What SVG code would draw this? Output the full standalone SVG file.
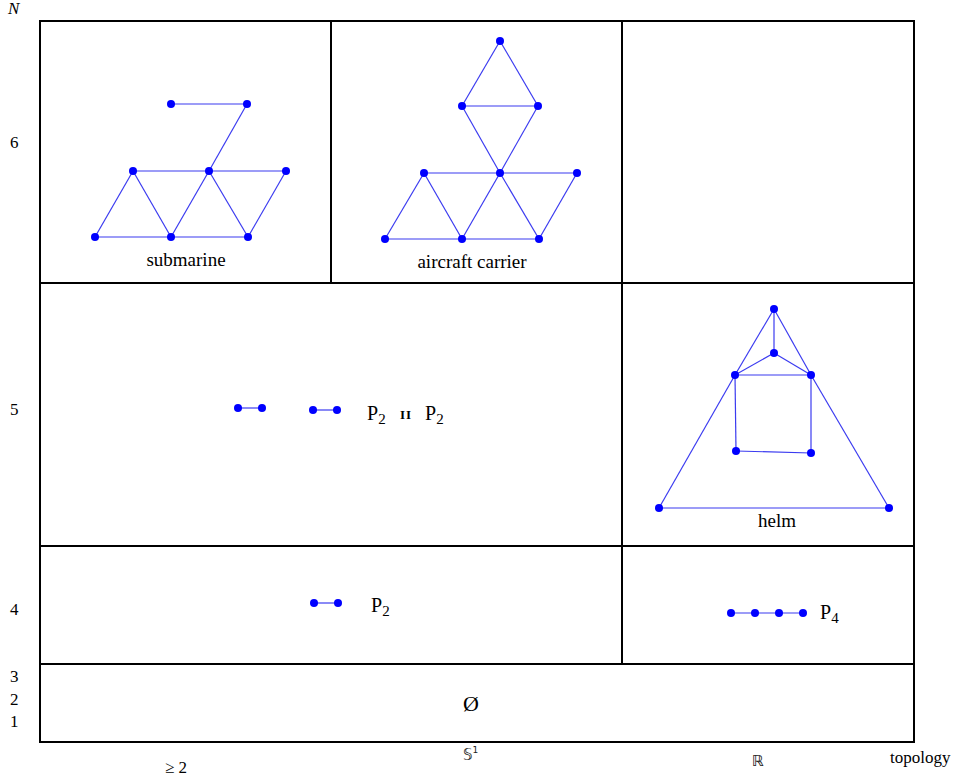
<svg xmlns="http://www.w3.org/2000/svg" width="956" height="783" viewBox="0 0 956 783" font-family="'Liberation Serif', 'Times New Roman', serif">
<style>
.grid{fill:none;stroke:#000;stroke-width:2}
.e{stroke:#3b3bf0;stroke-width:1.2;fill:none}
.n{fill:#0000ff}
.t{font-family:'Liberation Serif','Times New Roman',serif;fill:#000}
.ax{font-size:17px}
.lab{font-size:19px;text-anchor:middle}
.p{font-size:20px}
.sub{font-size:15px}
.ds{font-family:'DejaVu Sans',sans-serif;font-size:15px;fill:#222}
</style>
<rect width="956" height="783" fill="#fff"/>
<g id="grid">
<rect class="grid" x="40" y="21" width="874" height="721"/>
<line class="grid" x1="40" y1="283" x2="914" y2="283"/>
<line class="grid" x1="40" y1="546" x2="914" y2="546"/>
<line class="grid" x1="40" y1="664" x2="914" y2="664"/>
<line class="grid" x1="331" y1="21" x2="331" y2="283"/>
<line class="grid" x1="622" y1="21" x2="622" y2="664"/>
</g>
<g id="axes">
<text class="t ax" x="8" y="14" font-style="italic">N</text>
<text class="t ax" x="10" y="148">6</text>
<text class="t ax" x="10" y="415">5</text>
<text class="t ax" x="10" y="615">4</text>
<text class="t ax" x="10" y="682">3</text>
<text class="t ax" x="10" y="705">2</text>
<text class="t ax" x="10" y="727">1</text>
<text class="t ax" x="165" y="773">≥ 2</text>
<text class="ds" x="463" y="760">𝕊<tspan font-size="9" dy="-7">1</tspan></text>
<text class="ds" x="752" y="766">ℝ</text>
<text class="t ax" x="890" y="763">topology</text>
</g>
<g id="submarine">
<g class="e">
<line x1="171" y1="104" x2="247" y2="104"/>
<line x1="247" y1="104" x2="209" y2="171"/>
<line x1="133" y1="171" x2="286" y2="171"/>
<line x1="95" y1="237" x2="248" y2="237"/>
<line x1="133" y1="171" x2="95" y2="237"/>
<line x1="133" y1="171" x2="171" y2="237"/>
<line x1="209" y1="171" x2="171" y2="237"/>
<line x1="209" y1="171" x2="248" y2="237"/>
<line x1="286" y1="171" x2="248" y2="237"/>
</g>
<g class="n">
<circle cx="171" cy="104" r="4"/><circle cx="247" cy="104" r="4"/>
<circle cx="133" cy="171" r="4"/><circle cx="209" cy="171" r="4"/><circle cx="286" cy="171" r="4"/>
<circle cx="95" cy="237" r="4"/><circle cx="171" cy="237" r="4"/><circle cx="248" cy="237" r="4"/>
</g>
<text class="t lab" x="186" y="266">submarine</text>
</g>
<g id="aircraft-carrier">
<g class="e">
<line x1="500" y1="41" x2="462" y2="106"/>
<line x1="500" y1="41" x2="538" y2="106"/>
<line x1="462" y1="106" x2="538" y2="106"/>
<line x1="462" y1="106" x2="500" y2="173"/>
<line x1="538" y1="106" x2="500" y2="173"/>
<line x1="424" y1="173" x2="577" y2="173"/>
<line x1="385" y1="239" x2="539" y2="239"/>
<line x1="424" y1="173" x2="385" y2="239"/>
<line x1="424" y1="173" x2="462" y2="239"/>
<line x1="500" y1="173" x2="462" y2="239"/>
<line x1="500" y1="173" x2="539" y2="239"/>
<line x1="577" y1="173" x2="539" y2="239"/>
</g>
<g class="n">
<circle cx="500" cy="41" r="4"/>
<circle cx="462" cy="106" r="4"/><circle cx="538" cy="106" r="4"/>
<circle cx="424" cy="173" r="4"/><circle cx="500" cy="173" r="4"/><circle cx="577" cy="173" r="4"/>
<circle cx="385" cy="239" r="4"/><circle cx="462" cy="239" r="4"/><circle cx="539" cy="239" r="4"/>
</g>
<text class="t lab" x="472" y="268">aircraft carrier</text>
</g>
<g id="p2-p2">
<g class="e">
<line x1="238" y1="408" x2="262" y2="408"/>
<line x1="313" y1="410" x2="337" y2="410"/>
</g>
<g class="n">
<circle cx="238" cy="408" r="4"/><circle cx="262" cy="408" r="4"/>
<circle cx="313" cy="410" r="4"/><circle cx="337" cy="410" r="4"/>
</g>
<text class="t p" x="367" y="420">P<tspan class="sub" dy="4">2</tspan></text>
<text class="t" x="400" y="419" font-size="13" font-weight="bold" letter-spacing="1">II</text>
<text class="t p" x="425" y="420">P<tspan class="sub" dy="4">2</tspan></text>
</g>
<g id="helm">
<g class="e">
<line x1="774" y1="309" x2="735" y2="375"/>
<line x1="774" y1="309" x2="811" y2="375"/>
<line x1="774" y1="309" x2="774" y2="353"/>
<line x1="774" y1="353" x2="735" y2="375"/>
<line x1="774" y1="353" x2="811" y2="375"/>
<line x1="735" y1="375" x2="811" y2="375"/>
<line x1="735" y1="375" x2="736" y2="451"/>
<line x1="811" y1="375" x2="811" y2="453"/>
<line x1="736" y1="451" x2="811" y2="453"/>
<line x1="735" y1="375" x2="659" y2="508"/>
<line x1="811" y1="375" x2="889" y2="508"/>
<line x1="659" y1="508" x2="889" y2="508"/>
</g>
<g class="n">
<circle cx="774" cy="309" r="4"/><circle cx="774" cy="353" r="4"/>
<circle cx="735" cy="375" r="4"/><circle cx="811" cy="375" r="4"/>
<circle cx="736" cy="451" r="4"/><circle cx="811" cy="453" r="4"/>
<circle cx="659" cy="508" r="4"/><circle cx="889" cy="508" r="4"/>
</g>
<text class="t lab" x="777" y="527">helm</text>
</g>
<g id="p2">
<line class="e" x1="314" y1="603" x2="338" y2="603"/>
<g class="n"><circle cx="314" cy="603" r="4"/><circle cx="338" cy="603" r="4"/></g>
<text class="t p" x="371" y="612">P<tspan class="sub" dy="4">2</tspan></text>
</g>
<g id="p4">
<line class="e" x1="731" y1="613" x2="803" y2="613"/>
<g class="n"><circle cx="731" cy="613" r="4"/><circle cx="755" cy="613" r="4"/><circle cx="779" cy="613" r="4"/><circle cx="803" cy="613" r="4"/></g>
<text class="t p" x="820" y="619">P<tspan class="sub" dy="4">4</tspan></text>
</g>
<g id="empty">
<text class="t" x="471" y="711" font-size="22" text-anchor="middle">Ø</text>
</g>
</svg>
